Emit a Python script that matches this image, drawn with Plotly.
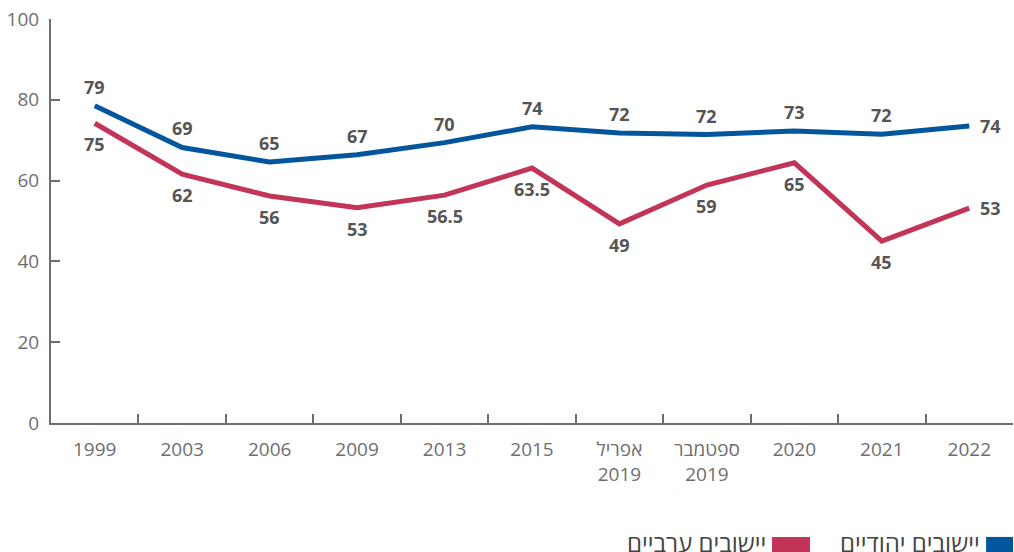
import plotly.graph_objects as go

categories = ["1999", "2003", "2006", "2009", "2013", "2015",
              "אפריל<br>2019", "ספטמבר<br>2019", "2020", "2021", "2022"]
jewish_values = [78.5, 68.2, 64.6, 66.4, 69.4, 73.3, 71.8, 71.4, 72.3, 71.5, 73.5]
jewish_labels = ["79", "69", "65", "67", "70", "74", "72", "72", "73", "72", "74"]
arab_values = [74.2, 61.6, 56.2, 53.3, 56.4, 63.1, 49.3, 58.9, 64.4, 45.0, 53.2]
arab_labels = ["75", "62", "56", "53", "56.5", "63.5", "49", "59", "65", "45", "53"]
series_names = ["יישובים יהודיים", "יישובים ערביים"]
y_ticks = [0, 20, 40, 60, 80, 100]

BLUE = "#03569b"
RED = "#c23559"
TXT = "#555555"
AX = "#6e6e6e"
FONT = "Open Sans, Noto Sans, DejaVu Sans, sans-serif"

n = len(categories)
fig = go.Figure()
for vals, labels, color, name, shift in [
    (jewish_values, jewish_labels, BLUE, series_names[0], 19),
    (arab_values, arab_labels, RED, series_names[1], -21),
]:
    fig.add_trace(go.Scatter(
        x=categories, y=vals, mode="lines", name=name,
        line=dict(color=color, width=5), showlegend=False, cliponaxis=False,
        hoverinfo="skip",
    ))
    for i, (v, t) in enumerate(zip(vals, labels)):
        last = i == n - 1
        fig.add_annotation(
            x=i, y=v, text=t, showarrow=False,
            xanchor="left" if last else "center", yanchor="middle",
            xshift=9 if last else 0, yshift=0 if last else shift,
            font=dict(family=FONT, size=18, color=TXT, weight="bold"),
        )

# RTL legend built with shapes and annotations
legend_items = [(series_names[0], BLUE, 0.972, 1.0), (series_names[1], RED, 0.7495, 0.789)]
for name, color, x0, x1 in legend_items:
    fig.add_shape(type="rect", xref="paper", yref="paper",
                  x0=x0, x1=x1, y0=-0.325, y1=-0.282,
                  fillcolor=color, line=dict(width=0))
    fig.add_annotation(xref="paper", yref="paper", x=x0 - 0.004, y=-0.296,
                       xanchor="right", yanchor="middle", text=name, showarrow=False,
                       font=dict(family=FONT, size=24, color="#444444"))

fig.update_layout(
    width=1014, height=552,
    margin=dict(l=51, r=1, t=19, b=129),
    paper_bgcolor="white", plot_bgcolor="white",
    font=dict(family=FONT, color=AX),
    xaxis=dict(
        type="category", tickson="boundaries", ticks="inside", ticklen=9,
        tickcolor=AX, tickwidth=1.5, showline=True, linecolor=AX, linewidth=2,
        showgrid=False, tickfont=dict(family=FONT, size=19, color=AX),
        range=[-0.5, n - 0.5], automargin=False, ticklabelstandoff=8,
    ),
    yaxis=dict(
        range=[0, 100], tickvals=y_ticks, ticks="inside", ticklen=9,
        tickcolor=AX, tickwidth=1.5, showline=True, linecolor=AX, linewidth=2,
        showgrid=False, zeroline=False, tickfont=dict(family=FONT, size=19, color=AX),
        ticklabelstandoff=6, automargin=False,
    ),
)

fig.write_html("out.html", config={"displayModeBar": False},
               post_script="document.body.style.margin='0';document.body.style.overflow='hidden';")
